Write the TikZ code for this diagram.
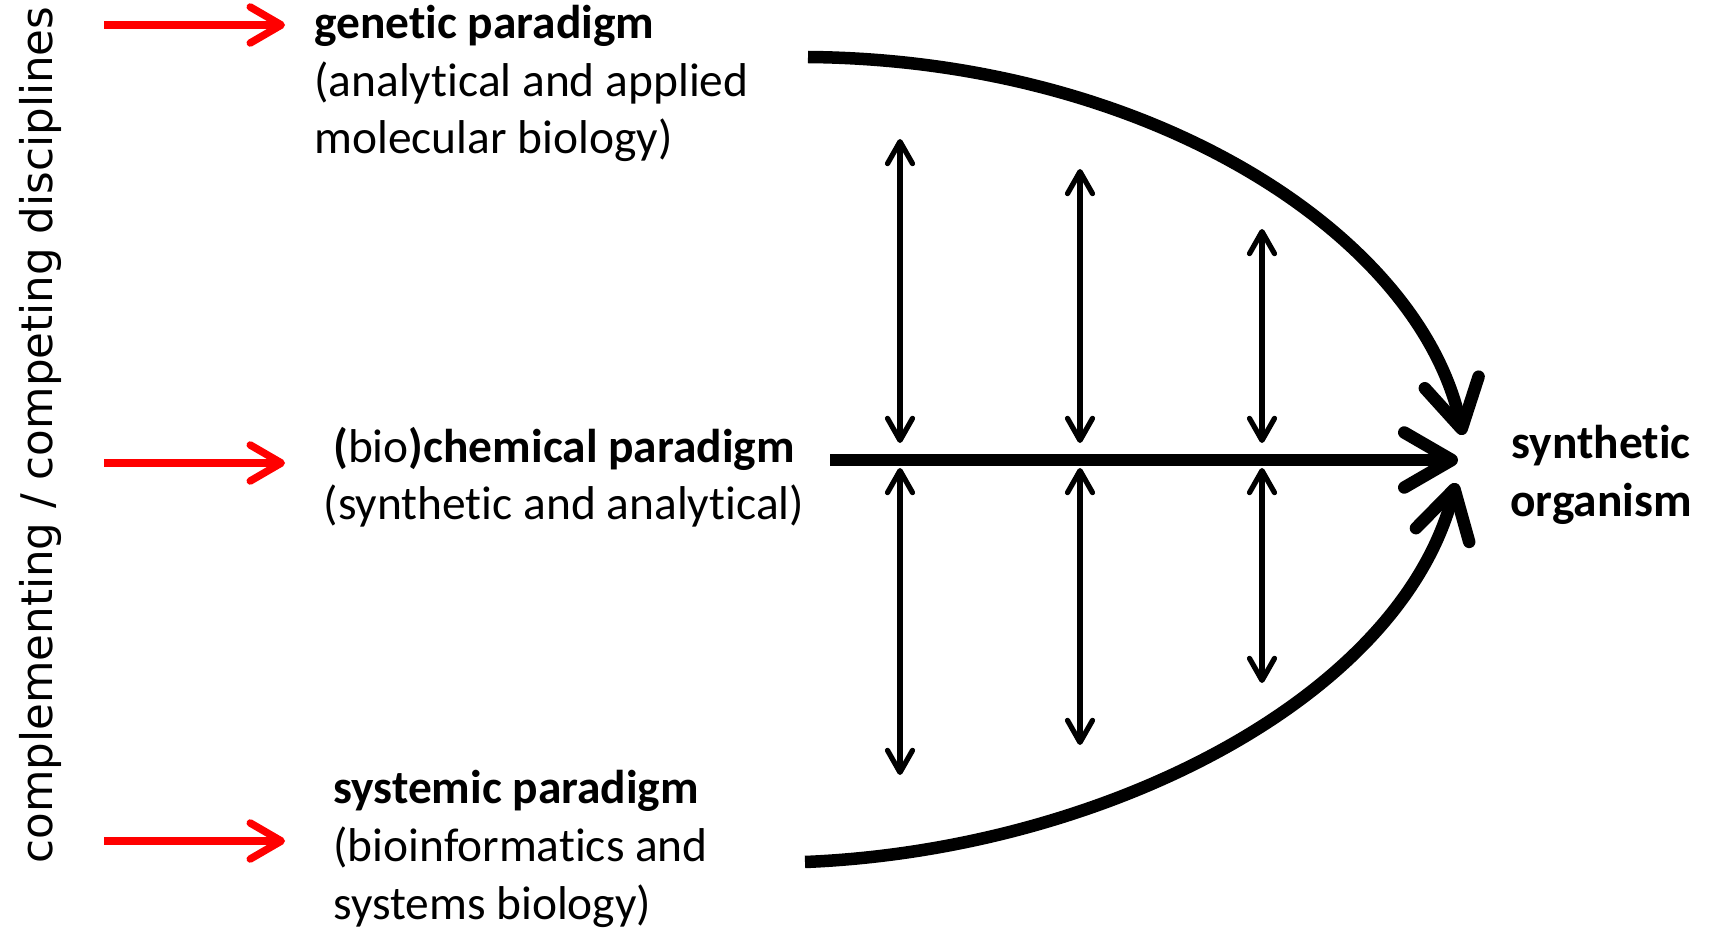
\documentclass[tikz,border=0pt]{standalone}
\usepackage{fontspec}
\setmainfont{Carlito}[Ligatures=NoCommon]
\newfontfamily\sidefont{DejaVu Sans}
\usetikzlibrary{arrows.meta, positioning}
\definecolor{pushred}{HTML}{FF0000}

\begin{document}
\begin{tikzpicture}[
    x=0.02cm, y=-0.02cm,
    paratext/.style={inner sep=0pt, font=\fontsize{27}{33}\selectfont},
    redarr/.style={-{Straight Barb[length=0.62cm, width=0.72cm, round]}, line width=0.15cm, pushred},
    mainarr/.style={-{Straight Barb[length=0.95cm, width=1.1cm, round]}, line width=0.25cm},
    linkarr/.style={{Straight Barb[length=0.44cm, width=0.5cm, round]}-{Straight Barb[length=0.44cm, width=0.5cm, round]}, line width=0.105cm}
  ]
  \useasboundingbox (0,0) rectangle (1712,929);

  \node[rotate=90, inner sep=0pt, font=\sidefont\fontsize{24.8}{30}\selectfont] (side) at (40,435)
    {complementing / competing disciplines};

  \node[paratext, anchor=base west, align=left] (genetic) at (314,154)
    {\textbf{genetic paradigm}\\(analytical and applied\\molecular biology)};
  \node[paratext, anchor=base, align=center] (chem) at (564,520)
    {\textbf{(}bio\textbf{)chemical paradigm}\\(synthetic and analytical)};
  \node[paratext, anchor=base west, align=left] (systemic) at (333,919)
    {\textbf{systemic paradigm}\\(bioinformatics and\\systems biology)};
  \node[paratext, anchor=base, align=center, font=\bfseries\fontsize{27}{33}\selectfont] (synth) at (1601,516)
    {synthetic\\organism};

  \coordinate (rg0) at (104,25);  \coordinate (rg1) at (285,25);
  \coordinate (rc0) at (104,463); \coordinate (rc1) at (285,463);
  \coordinate (rs0) at (104,841); \coordinate (rs1) at (285,841);
  \draw[redarr] (rg0) -- (rg1);
  \draw[redarr] (rc0) -- (rc1);
  \draw[redarr] (rs0) -- (rs1);

  \coordinate (gtail) at (808,57);  \coordinate (gtip) at (1463,435);
  \coordinate (ctail) at (830,460); \coordinate (ctip) at (1458,460);
  \coordinate (stail) at (805,862); \coordinate (stip) at (1456,483);
  \draw[mainarr] (gtail) .. controls (1150,60) and (1420,235) .. (gtip);
  \draw[mainarr] (ctail) -- (ctip);
  \draw[mainarr] (stail) .. controls (1100,850) and (1400,700) .. (stip);

  \foreach \x/\t/\b [count=\i] in {900/139/775, 1080/169/745, 1262/229/683} {
    \coordinate (up\i) at (\x,\t);
    \coordinate (upm\i) at (\x,443);
    \coordinate (lom\i) at (\x,468);
    \coordinate (lo\i) at (\x,\b);
    \draw[linkarr] (up\i) -- (upm\i);
    \draw[linkarr] (lom\i) -- (lo\i);
  }
\end{tikzpicture}
\end{document}
